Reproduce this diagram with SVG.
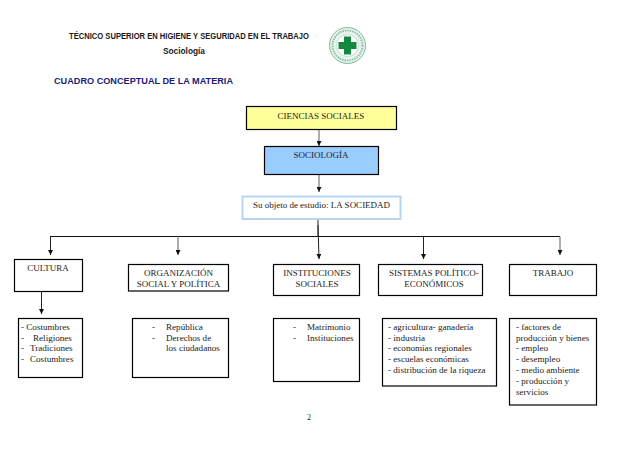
<svg xmlns="http://www.w3.org/2000/svg" width="638" height="452" viewBox="0 0 638 452">
<style>
text{font-family:"Liberation Serif","Times New Roman",serif;font-size:9.1px;fill:#222}
.h{font-family:"Liberation Sans",Arial,sans-serif;font-weight:bold;font-size:8.2px;fill:#1a1a1a}
.b{fill:#fff;stroke:#000;stroke-width:1.2}
.m{text-anchor:middle;font-size:9px}
.c{fill:none;stroke:#222;stroke-width:1}
.g{fill:none;stroke:#8a8a8a;stroke-width:1.4}
</style>
<defs><marker id="a" markerUnits="userSpaceOnUse" markerWidth="6" markerHeight="5" refX="5" refY="2.5" orient="auto"><path d="M0 0L5 2.5L0 5Z" fill="#111"/></marker></defs>
<g id="header">
<text class="h" x="69" y="39" textLength="240" lengthAdjust="spacingAndGlyphs">TÉCNICO SUPERIOR EN HIGIENE Y SEGURIDAD EN EL TRABAJO</text>
<text class="h" x="163" y="54" textLength="42" lengthAdjust="spacingAndGlyphs">Sociología</text>
<text class="h" x="54" y="84" style="font-size:9.6px;fill:#1c1c78" textLength="179" lengthAdjust="spacingAndGlyphs">CUADRO CONCEPTUAL DE LA MATERIA</text>
</g>
<g id="logo">
<circle cx="347.500" cy="45.500" r="18" fill="#e9f4ee" stroke="#7fb79b" stroke-width="1"/>
<circle cx="347.500" cy="45.500" r="15" fill="none" stroke="#8cc0a6" stroke-width="2" stroke-dasharray="1.500 1"/>
<circle cx="347.500" cy="45.500" r="11" fill="#fff" stroke="#9ac9b1" stroke-width=".6"/>
<path d="M344 36.500h7v5.500h5.500v7H351v5.500h-7V49h-5.500v-7H344Z" fill="#12893f"/>
</g>
<g id="connectors">
<path class="g" d="M319 129V146" marker-end="url(#a)"/>
<path class="g" d="M319 174V192" marker-end="url(#a)"/>
<path class="c" d="M318 219V236"/>
<path d="M50 236.500H560" fill="none" stroke="#111" stroke-width="1.200"/>
<path class="c" d="M50.500 236.500V255" marker-end="url(#a)"/>
<path class="g" d="M178 236.500V255" marker-end="url(#a)"/>
<path class="c" d="M318 225L319 259" marker-end="url(#a)"/>
<path class="c" d="M423.500 236.500V259" marker-end="url(#a)"/>
<path class="g" d="M560 236.500V255" marker-end="url(#a)"/>
<path class="c" d="M41.500 291V314" marker-end="url(#a)"/>
</g>
<g id="n-ciencias"><rect x="246.500" y="106.500" width="150" height="23" fill="#ffff99" stroke="#000" stroke-width="1.200"/><text class="m" x="321" y="119">CIENCIAS SOCIALES</text></g>
<g id="n-sociologia"><rect x="264.500" y="146.500" width="114" height="28" fill="#99ccff" stroke="#000" stroke-width="1.200"/><text class="m" x="321" y="158">SOCIOLOGÍA</text></g>
<g id="n-objeto"><rect x="242.500" y="196.500" width="158" height="22.500" fill="#fff" stroke="#b5d5f2" stroke-width="2"/><text class="m" x="321.500" y="208">Su objeto de estudio: LA SOCIEDAD</text></g>
<g id="n-cultura"><rect class="b" x="14.500" y="259.500" width="68" height="32"/><text class="m" x="48" y="271">CULTURA</text></g>
<g id="n-organizacion"><rect class="b" x="128.500" y="264.500" width="100" height="26.500"/><text class="m" x="178.500" y="276">ORGANIZACIÓN</text><text class="m" x="178.500" y="287">SOCIAL Y POLÍTICA</text></g>
<g id="n-instituciones"><rect class="b" x="273.500" y="264.500" width="86" height="31"/><text class="m" x="317" y="276">INSTITUCIONES</text><text class="m" x="317" y="287">SOCIALES</text></g>
<g id="n-sistemas"><rect class="b" x="378.500" y="264.500" width="104" height="31"/><text class="m" x="434" y="276">SISTEMAS POLÍTICO-</text><text class="m" x="434" y="287">ECONÓMICOS</text></g>
<g id="n-trabajo"><rect class="b" x="509.500" y="264.500" width="87" height="31"/><text class="m" x="553" y="276">TRABAJO</text></g>
<g id="n-cultura-lista"><rect class="b" x="18.500" y="318.500" width="64" height="59"/><text x="21" y="330">- Costumbres</text><text x="21" y="341">-</text><text x="33" y="341">Religiones</text><text x="21" y="351">-</text><text x="30" y="351">Tradiciones</text><text x="21" y="362">-</text><text x="30" y="362">Costumbres</text></g>
<g id="n-organizacion-lista"><rect class="b" x="132.500" y="318.500" width="96" height="59"/><text x="152" y="330">-</text><text x="166" y="330">República</text><text x="152" y="341">-</text><text x="166" y="341">Derechos de</text><text x="166" y="351">los ciudadanos</text></g>
<g id="n-instituciones-lista"><rect class="b" x="273.500" y="318.500" width="86" height="63"/><text x="293" y="330">-</text><text x="307" y="330">Matrimonio</text><text x="293" y="341">-</text><text x="307" y="341">Instituciones</text></g>
<g id="n-sistemas-lista"><rect class="b" x="382.500" y="318.500" width="114" height="67.500"/><text x="388" y="330">- agricultura- ganadería</text><text x="388" y="341">- industria</text><text x="388" y="351">- economías regionales</text><text x="388" y="362">- escuelas económicas</text><text x="388" y="373">- distribución de la riqueza</text></g>
<g id="n-trabajo-lista"><rect class="b" x="509.500" y="318.500" width="87" height="86.500"/><text x="516" y="330">- factores de</text><text x="516" y="341">producción y bienes</text><text x="516" y="351">- empleo</text><text x="516" y="362">- desempleo</text><text x="516" y="373">- medio ambiente</text><text x="516" y="384">- producción y</text><text x="516" y="395">servicios</text></g>
<text x="307" y="420" style="font-size:8px">2</text>
</svg>
